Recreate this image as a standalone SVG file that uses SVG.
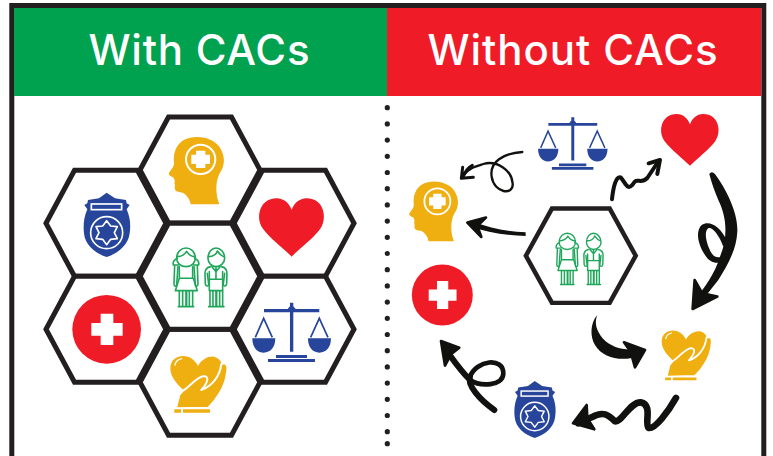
<svg xmlns="http://www.w3.org/2000/svg" width="773" height="456" viewBox="0 0 773 456">
<style>
.hex{fill:#fff;stroke:#231f20;stroke-width:5;stroke-linejoin:miter}
.title{font-family:"Inter","Open Sans",sans-serif;font-size:42px;fill:#fff;font-weight:500}
.yl{fill:#f0af10}.rd{fill:#ef1c27}.bl{fill:#27459b}
.kid{fill:none;stroke:#1fa65a;stroke-width:4.800;stroke-linejoin:round;stroke-linecap:round}
.ar{fill:none;stroke:#11110f;stroke-linecap:round;stroke-linejoin:round}
.hd{fill:#11110f;stroke:#11110f;stroke-width:8;stroke-linejoin:round}
.fl{fill:#11110f}
.dot{fill:#231f20}
</style>
<defs>
<path id="hx" d="M-60,0L-31.500,-53H31.500L60,0L31.500,53H-31.500Z"/>
<g id="head">
<path class="yl" d="M655,343H572C570,328 560,314 548,308C538,306 528,308 525,298C523,290 527,285 523,280C527,272 522,268 520,262C512,260 505,254 507,249C512,240 522,232 522,220C518,180 535,150 570,143C600,136 640,145 658,170C675,195 675,220 665,240C650,262 648,285 650,310C651,325 655,335 658,340Z"/>
<circle cx="602" cy="208" r="44" fill="none" stroke="#fff" stroke-width="6"/>
<path fill="#fff" d="M588,182H616V194H630V222H616V234H588V222H574V194H588Z"/>
</g>
<path id="heart" class="rd" d="M875,500C850,475 810,445 790,418C778,402 776,385 778,370C783,340 805,325 830,325C852,325 868,340 875,360C882,340 898,325 920,325C945,325 967,340 971,370C973,385 971,402 960,418C940,445 900,475 875,500Z"/>
<g id="shield">
<path class="bl" d="M320,308L345,325L378,330L380,340L389,345L380,358C392,385 392,410 389,430C385,465 355,490 320,501C285,490 255,465 252,430C250,410 250,385 262,358L253,345L262,340L264,330L297,325Z"/>
<rect x="274" y="342" width="91" height="17" fill="none" stroke="#fff" stroke-width="5"/>
<circle cx="320" cy="428" r="48" fill="none" stroke="#fff" stroke-width="5"/>
<path class="bl" stroke="#fff" stroke-width="5" stroke-linejoin="round" d="M320,392L332,408L352,410L343,428L352,446L332,448L320,464L308,448L288,446L297,428L288,410L308,408Z"/>
</g>
<g id="cross">
<circle class="rd" cx="320" cy="718" r="103"/>
<path fill="#fff" d="M302,671H340V699H368V737H340V765H302V737H274V699H302Z"/>
</g>
<g id="scale">
<path class="bl" d="M792,657H958V667H792ZM870,638H880V785H870ZM875,643L887,657L875,671L863,657ZM757,745H826C826,772 812,788 791,788C771,788 757,772 757,745ZM924,745H993C993,772 979,788 958,788C938,788 924,772 924,745ZM828,795H921V804H828ZM804,807H945V816H804Z"/>
<path d="M766,742L791,685L817,742M932,742L958,685L984,742" fill="none" stroke="#27459b" stroke-width="5"/>
</g>
<g id="care">
<path class="yl" d="M558,908C535,885 511,865 511,835C511,810 530,798 550,798C570,798 585,810 594,828C605,808 625,798 642,800C665,805 672,830 670,855L610,920Z"/>
<path class="yl" stroke="#fff" stroke-width="6" stroke-linejoin="round" d="M528,955L538,915L548,903C570,890 590,860 612,858C630,860 622,880 604,900C635,890 660,860 664,822L675,820C684,824 683,840 680,855C675,890 650,930 625,953Z"/>
<path class="yl" d="M523,958H543V968H523ZM549,958H630V968H549Z"/>
<path d="M525,825C527,815 535,808 545,806" fill="none" stroke="#fff" stroke-width="4" stroke-linecap="round"/>
</g>
<g id="kids" class="kid">
<path d="M530,505C530,485 545,474 558,474C572,474 586,485 586,505C586,518 575,530 558,530C541,530 530,518 530,505Z"/>
<path d="M531,500C545,500 555,492 560,484C565,492 575,500 585,500"/>
<path d="M532,505C522,510 518,518 520,525L536,525M584,505C594,510 598,518 596,525L580,525"/>
<path d="M524,527L522,583C522,590 530,590 530,585L534,530M592,527L594,583C594,590 586,590 586,585L582,530"/>
<path d="M538,530V565H578V530M538,565L526,602H592L580,565"/>
<path d="M538,603V650H558V603M560,603V650H578V603M548,603V648M568,603V648M535,650H581"/>
<path d="M624,505C624,486 636,474 648,474C661,474 674,486 674,505C674,518 662,530 648,530C635,530 624,518 624,505Z"/>
<path d="M626,500C640,500 650,492 652,483C658,492 665,498 672,500"/>
<path d="M632,530C620,532 615,540 615,550L616,582C618,590 626,590 626,582L622,550M664,530C676,532 681,540 681,550L680,582C678,590 670,590 670,582L674,550"/>
<path d="M628,545V602H668V545M628,568H668M648,530V568M636,530L648,545L660,530"/>
<path d="M630,603V650H648V603M650,603V650H668V603M639,603V648M659,603V648M626,650H672"/>
</g>
</defs>

<g id="frame">
<rect x="11.800" y="5.500" width="752" height="470" fill="#fff" stroke="#231f20" stroke-width="5"/>
<rect x="14" y="8" width="373" height="88" fill="#00a14f"/>
<rect x="387" y="8" width="374" height="88" fill="#ef1c27"/>
<text class="title" x="88.500" y="65" textLength="221" lengthAdjust="spacing">With CACs</text>
<text class="title" x="427.500" y="65" textLength="290" lengthAdjust="spacing">Without CACs</text>
<g id="divider">
<line x1="387.300" y1="107.700" x2="387.300" y2="433" stroke="#231f20" stroke-width="5.200" stroke-linecap="round" stroke-dasharray="0 16.200"/>
<circle class="dot" cx="387.300" cy="443.700" r="2.600"/>
</g>
</g>

<g id="hex-head"><use href="#hx" class="hex" x="200" y="170"/><use href="#head" transform="translate(0 90) scale(.3333)"/></g>
<g id="hex-shield"><use href="#hx" class="hex" x="106" y="223.300"/><use href="#shield" transform="translate(0 90) scale(.3333)"/></g>
<g id="hex-heart"><use href="#hx" class="hex" x="294" y="223.300"/><use href="#heart" transform="translate(0 90) scale(.3333)"/></g>
<g id="hex-cross"><use href="#hx" class="hex" x="106" y="329.300"/><use href="#cross" transform="translate(0 90) scale(.3333)"/></g>
<g id="hex-scale"><use href="#hx" class="hex" x="294" y="329.300"/><use href="#scale" transform="translate(0 90) scale(.3333)"/></g>
<g id="hex-care"><use href="#hx" class="hex" x="200" y="382.300"/><use href="#care" transform="translate(0 90) scale(.3333)"/></g>
<g id="hex-kids"><use href="#hx" class="hex" x="200" y="276.300"/><use href="#kids" transform="translate(0 90) scale(.3333)"/></g>

<g id="node-kids"><use href="#hx" class="hex" transform="translate(580.800 255.700) scale(.915 .89)"/><use href="#kids" transform="translate(404.900 95.300) scale(.291)"/></g>
<g id="node-head"><use href="#head" transform="translate(259.600 140) scale(.2953)"/></g>
<g id="node-scale"><use href="#scale" transform="translate(315.100 -70.600) scale(.2945)"/></g>
<g id="node-heart"><use href="#heart" transform="translate(431.400 18) scale(.2955)"/></g>
<g id="node-care"><use href="#care" transform="translate(512.200 97.200) scale(.2925)"/></g>
<g id="node-shield"><use href="#shield" transform="translate(440.200 290) scale(.2955)"/></g>
<g id="node-cross"><use href="#cross" transform="translate(347.600 82.500) scale(.296)"/></g>

<g id="connectors" transform="translate(390 90) scale(.3333)">
<path class="ar" stroke-width="7" d="M397,186C340,190 298,215 305,260C312,310 372,318 368,280C365,240 320,210 280,222C260,228 240,232 222,255"/>
<path class="ar" stroke-width="9" d="M247,226C235,232 225,245 218,262M218,232L214,265L250,262"/>
<path class="fl" d="M407,427C350,425 300,414 240,392L238,408C290,428 350,436 407,438Z"/>
<path class="hd" d="M232,398L288,383L262,408L274,441Z"/>
<path class="ar" stroke-width="12" d="M666,328C670,290 678,258 692,262C708,280 712,302 728,284C742,258 750,286 772,264L800,222"/>
<path class="ar" stroke-width="12" d="M776,220L810,210L802,252"/>
<path class="fl" d="M958,252Q965,242 975,252C1010,300 1045,370 1042,425C1040,480 1010,530 985,570L930,640L915,630C945,590 975,550 990,500C1015,440 1010,380 985,330C975,305 965,280 958,252Z"/>
<path class="fl" d="M1005,510C985,525 960,520 945,495C925,465 915,425 935,405C960,390 990,410 1010,450L1000,470C985,430 965,410 955,415C940,425 950,465 965,490C975,505 990,505 1000,495Z"/>
<path class="hd" d="M908,657L914,570L937,610L982,620Z"/>
<path class="fl" d="M622,675C600,700 600,740 615,765C640,808 700,815 750,798L752,775C710,785 665,775 638,745C620,722 612,700 622,675Z"/>
<path class="hd" d="M765,780L702,757L722,785L735,832Z"/>
<path class="ar" stroke-width="20" d="M858,924C835,965 795,1018 776,1014C762,1000 790,945 752,937C720,936 695,998 675,994C655,975 640,962 605,982L565,1000"/>
<path class="hd" d="M549,1000L590,945L592,985L613,1018Z"/>
<path class="ar" stroke-width="14" d="M240,860C260,810 340,800 340,850C340,890 270,890 240,870"/>
<path class="ar" stroke-width="18" d="M313,960C270,930 230,885 240,860M240,870C210,840 190,810 168,780"/>
<path class="hd" d="M153,753L208,773L184,792L165,827Z"/>
</g>
</svg>
